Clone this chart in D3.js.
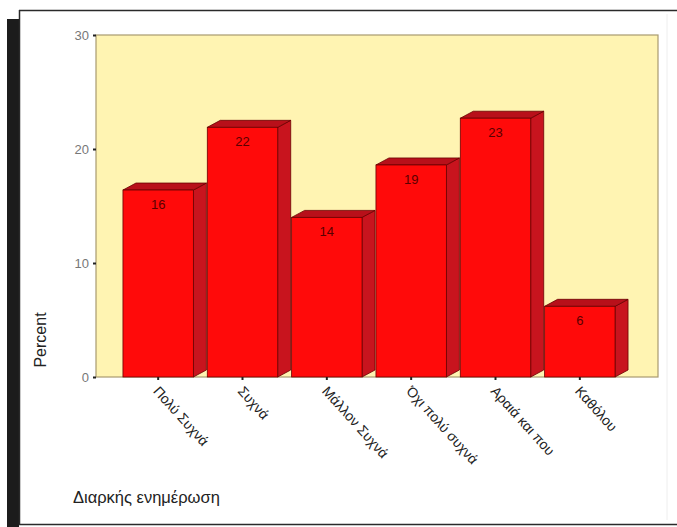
<!DOCTYPE html>
<html><head><meta charset="utf-8">
<script src="https://cdn.jsdelivr.net/npm/d3@7"></script>
<style>html,body{margin:0;padding:0;background:#fff;}svg{display:block;}</style>
</head><body>
<script>
const categories = ["Πολύ Συχνά","Συχνά","Μάλλον Συχνά","Όχι πολύ συχνά","Αραιά και που","Καθόλου"];
const values = [16.4, 21.9, 14.0, 18.6, 22.7, 6.2];
const yTicks = [0, 10, 20, 30];
const yTitle = "Percent";
const xTitle = "Διαρκής ενημέρωση";

const W = 677, H = 527;
const svg = d3.select("body").append("svg").attr("width", W).attr("height", H);
const font = "Arial, 'Liberation Sans', sans-serif";

// outer frame
svg.append("rect").attr("x", 7).attr("y", 19).attr("width", 12).attr("height", H - 19).attr("fill", "#1c1c1c");
svg.append("path").attr("d", "M19,10.5 H677 M19.5,10 V524.5 M19,524.5 H677").attr("stroke", "#2a2a2a").attr("stroke-width", 1.5).attr("fill", "none");
svg.append("line").attr("x1", 667).attr("x2", 667).attr("y1", 14).attr("y2", 520).attr("stroke", "#eee");

const plot = {l: 96, r: 658, t: 35, b: 377};
const y = d3.scaleLinear().domain([0, 30]).range([plot.b, plot.t]);
const x = d3.scaleBand().domain(categories).range([116, 622]).paddingInner(0.165).paddingOuter(0.0825);

svg.append("rect").attr("x", plot.l).attr("y", plot.t).attr("width", plot.r - plot.l).attr("height", plot.b - plot.t)
  .attr("fill", "#FFF4B2").attr("stroke", "#a89a70").attr("stroke-width", 1.2);

const dx = 13, dy = 7;
const g = svg.append("g");
categories.forEach((c, i) => {
  const x0 = x(c), x1 = x0 + x.bandwidth(), yt = y(values[i]), yb = y(0);
  g.append("path").attr("d", `M${x1},${yb} L${x1 + dx},${yb - dy} L${x1 + dx},${yt - dy} L${x1},${yt} Z`)
    .attr("fill", "#C8141E").attr("stroke", "#6a0000").attr("stroke-width", 0.8);
  g.append("path").attr("d", `M${x0},${yt} L${x0 + dx},${yt - dy} L${x1 + dx},${yt - dy} L${x1},${yt} Z`)
    .attr("fill", "#B8101A").attr("stroke", "#6a0000").attr("stroke-width", 0.8);
  g.append("rect").attr("x", x0).attr("y", yt).attr("width", x.bandwidth()).attr("height", yb - yt)
    .attr("fill", "#FF0A0A").attr("stroke", "#6a0000").attr("stroke-width", 0.8);
  g.append("text").attr("x", x0 + x.bandwidth() / 2).attr("y", yt + 19).attr("text-anchor", "middle")
    .attr("font-family", font).attr("font-size", 13).attr("fill", "#5a0000").text(d3.format(".0f")(values[i]));
});

// y axis
const yAxis = d3.axisLeft(y).tickValues(yTicks).tickSize(3).tickPadding(4);
const ya = svg.append("g").attr("transform", `translate(${plot.l},0)`).call(yAxis);
ya.select(".domain").remove();
ya.selectAll("line").attr("stroke", "#222").attr("stroke-width", 2);
ya.selectAll("text").attr("font-family", font).attr("font-size", 13).attr("fill", "#777");

// x axis
const xAxis = d3.axisBottom(x).tickSize(3).tickPadding(5);
const xa = svg.append("g").attr("transform", `translate(0,${plot.b})`).call(xAxis);
xa.select(".domain").remove();
xa.selectAll("line").attr("stroke", "#222").attr("stroke-width", 2);
xa.selectAll("text").attr("font-family", font).attr("font-size", 14).attr("fill", "#222")
  .attr("text-anchor", "start").attr("dy", "0.35em")
  .attr("transform", "translate(4,6) rotate(48)");

// titles
svg.append("text").attr("transform", "translate(46,340) rotate(-90)").attr("text-anchor", "middle")
  .attr("font-family", font).attr("font-size", 16).attr("fill", "#222").text(yTitle);
svg.append("text").attr("x", 73).attr("y", 503).attr("font-family", font).attr("font-size", 16.5)
  .attr("fill", "#222").text(xTitle);
</script>
</body></html>
